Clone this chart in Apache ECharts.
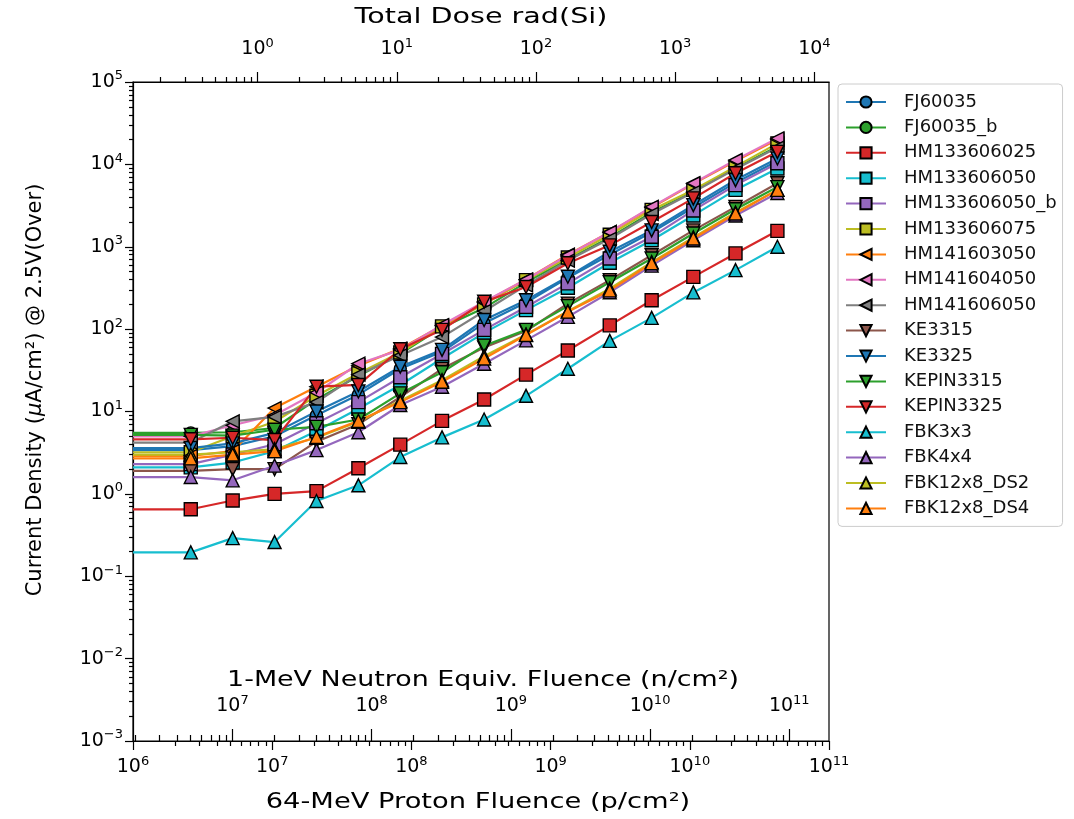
<!DOCTYPE html>
<html>
<head>
<meta charset="utf-8">
<script src="https://cdn.jsdelivr.net/npm/echarts@6/dist/echarts.min.js"></script>
<style>
    html, body { margin: 0; padding: 0; background: #fff; }
    #main { width: 1074px; height: 819px; }
</style>
</head>
<body>
<div id="main"></div>
<script>
    // proton fluence (p/cm2); the first entry is the pre-irradiation level drawn from the left edge
    var fluence = [1e6, 2.6e6, 5.2e6, 1.04e7, 2.08e7, 4.16e7, 8.32e7, 1.66e8, 3.33e8, 6.66e8, 1.33e9, 2.66e9, 5.32e9, 1.06e10, 2.13e10, 4.26e10];

    var FJ60035       = [3.4, 3.4, 3.8, 5.0, 9.0, 16, 33, 53, 118, 210, 420, 800, 1500, 3000, 6000, 11000];
    var FJ60035_b     = [5.5, 5.5, 5.6, 6.3, 14, 27, 50, 105, 180, 370, 700, 1300, 2600, 4700, 9000, 16500];
    var HM133606025   = [0.65, 0.65, 0.83, 1.0, 1.08, 2.05, 3.96, 7.7, 14, 28, 55, 111, 224, 431, 830, 1560];
    var HM133606050   = [2.1, 2.1, 2.4, 3.3, 5.8, 10.8, 21, 44, 90, 170, 318, 640, 1200, 2400, 4900, 8900];
    var HM133606050_b = [2.3, 2.3, 3.0, 4.0, 7.2, 13, 26, 50, 98, 186, 359, 720, 1320, 2760, 5600, 10300];
    var HM133606075   = [3.2, 3.2, 5.0, 7.5, 15.5, 29, 52, 108, 200, 393, 740, 1400, 2800, 4900, 9400, 18000];
    var HM141603050   = [2.9, 2.9, 3.3, 11, 20, 36, 58, 110, 210, 400, 800, 1500, 3000, 5800, 11000, 20000];
    var HM141604050   = [5.0, 5.0, 6.8, 9.0, 17, 38, 56, 112, 215, 400, 790, 1510, 3050, 5900, 11300, 20700];
    var HM141606050   = [4.2, 4.2, 7.6, 8.6, 13, 28, 48, 80, 165, 340, 680, 1250, 2500, 4600, 8800, 16000];
    var KE3315        = [1.9, 1.9, 2.0, 2.0, 4.3, 7.0, 15, 33, 60, 95, 204, 393, 790, 1580, 3050, 5900];
    var KE3325        = [3.6, 3.6, 4.1, 5.5, 10, 17.5, 35, 56, 129, 224, 432, 870, 1580, 3200, 6450, 11800];
    var KEPIN3315     = [5.2, 5.2, 5.1, 6.0, 6.5, 8.0, 16.6, 30, 63, 98, 190, 370, 720, 1450, 2850, 5300];
    var KEPIN3325     = [4.6, 4.6, 4.8, 4.5, 20, 21, 57, 98, 215, 325, 630, 1040, 2000, 3870, 7800, 14200];
    var FBK3x3        = [0.195, 0.195, 0.29, 0.26, 0.82, 1.27, 2.8, 4.85, 8.0, 15.5, 33, 72, 137, 279, 520, 1000];
    var FBK4x4        = [1.6, 1.6, 1.46, 2.2, 3.4, 5.6, 12, 20, 38, 73, 141, 280, 590, 1200, 2400, 4500];
    var FBK12x8_DS2   = [3.0, 3.0, 3.2, 3.5, 4.8, 7.5, 13.5, 24, 47, 86, 165, 310, 650, 1300, 2600, 4900];
    var FBK12x8_DS4   = [2.7, 2.7, 3.0, 3.3, 4.9, 7.7, 13, 23, 44, 85, 163, 295, 630, 1260, 2530, 4900];

    // tick labels (decade exponents)
    var currentDecades = [-3, -2, -1, 0, 1, 2, 3, 4, 5];
    var doseDecades = [0, 1, 2, 3, 4];
    var neutronDecades = [7, 8, 9, 10, 11];

    // secondary scales relative to proton fluence
    var doseFactor = 7.85e6;    // p/cm2 per rad(Si)
    var neutronFactor = 1.93;   // n/cm2 per p/cm2

    var font = 'DejaVu Sans';
    var circle = 'circle';
    var square = 'rect';
    var triLeft = 'path://M0,5L10,0L10,10Z';
    var triDown = 'path://M0,0L10,0L5,10Z';
    var triUp = 'path://M5,0L10,10L0,10Z';

    var seriesDefs = [
        ['FJ60035', FJ60035, '#1f77b4', circle],
        ['FJ60035_b', FJ60035_b, '#2ca02c', circle],
        ['HM133606025', HM133606025, '#d62728', square],
        ['HM133606050', HM133606050, '#17becf', square],
        ['HM133606050_b', HM133606050_b, '#9467bd', square],
        ['HM133606075', HM133606075, '#bcbd22', square],
        ['HM141603050', HM141603050, '#ff7f0e', triLeft],
        ['HM141604050', HM141604050, '#e377c2', triLeft],
        ['HM141606050', HM141606050, '#7f7f7f', triLeft],
        ['KE3315', KE3315, '#8c564b', triDown],
        ['KE3325', KE3325, '#1f77b4', triDown],
        ['KEPIN3315', KEPIN3315, '#2ca02c', triDown],
        ['KEPIN3325', KEPIN3325, '#d62728', triDown],
        ['FBK3x3', FBK3x3, '#17becf', triUp],
        ['FBK4x4', FBK4x4, '#9467bd', triUp],
        ['FBK12x8_DS2', FBK12x8_DS2, '#bcbd22', triUp],
        ['FBK12x8_DS4', FBK12x8_DS4, '#ff7f0e', triUp]
    ];

    var series = seriesDefs.map(function (d) {
        var data = d[1].map(function (v, i) {
            if (i === 0) return {value: [fluence[i], v], symbol: 'none'};
            return [fluence[i], v];
        });
        return {
            name: d[0],
            type: 'line',
            xAxisIndex: 0,
            yAxisIndex: 0,
            data: data,
            symbol: d[3],
            symbolSize: d[3] === circle ? 12 : 13,
            showAllSymbol: true,
            lineStyle: {color: d[2], width: 2.2},
            itemStyle: {color: d[2], borderColor: '#000', borderWidth: 1.4},
            emphasis: {disabled: true},
            animation: false
        };
    });

    // minor tick positions in log10 space between two exponents
    function minors(lo, hi) {
        var out = [];
        for (var e = Math.floor(lo); e <= Math.ceil(hi); e++) {
            for (var k = 2; k <= 9; k++) {
                var p = e + Math.log10(k);
                if (p >= lo && p <= hi) out.push(p);
            }
        }
        return out;
    }

    function supLabel(exp) {
        var s = exp < 0 ? '\u2212' + (-exp) : String(exp);
        return '{b|10}{s|' + s + '}';
    }

    var rich = {
        b: {fontSize: 19, fontFamily: font, color: '#000', lineHeight: 25},
        s: {fontSize: 13, fontFamily: font, color: '#000', lineHeight: 15, verticalAlign: 'top'}
    };

    var blackLine = {color: '#000', width: 1.2};

    var doseMin = Math.log10(1e6 / doseFactor), doseMax = Math.log10(1e11 / doseFactor);
    var neuMin = Math.log10(1e6 * neutronFactor), neuMax = Math.log10(1e11 * neutronFactor);

    var option = {
        backgroundColor: '#fff',
        animation: false,
        grid: {left: 133, right: 245, top: 82, bottom: 78, show: true, borderColor: '#000', borderWidth: 1.2, backgroundColor: '#fff'},
        legend: {
            orient: 'vertical',
            left: 838,
            top: 84,
            padding: [9, 6, 9, 7],
            itemWidth: 40,
            itemHeight: 14,
            itemGap: 7.4,
            borderColor: '#cccccc',
            borderWidth: 1,
            borderRadius: 4,
            textStyle: {fontFamily: font, fontSize: 18, lineHeight: 18, color: '#111', padding: [0, 0, 0, 13]},
            data: seriesDefs.map(function (d) { return d[0]; })
        },
        xAxis: [
            {   // 64-MeV proton fluence, data axis
                type: 'log', logBase: 10, min: 1e6, max: 1e11, position: 'bottom', gridIndex: 0,
                axisLine: {onZero: false, lineStyle: blackLine},
                axisTick: {length: 9, lineStyle: blackLine},
                axisLabel: {margin: 14, rich: rich, formatter: function (v) { return supLabel(Math.round(Math.log10(v))); }},
                splitLine: {show: false}, minorTick: {show: false}
            },
            {   // proton minor ticks
                type: 'value', min: 6, max: 11, position: 'bottom', gridIndex: 0,
                axisLine: {show: false, onZero: false},
                axisTick: {length: 5, lineStyle: blackLine, customValues: minors(6, 11)},
                axisLabel: {show: false}, splitLine: {show: false}
            },
            {   // total dose, top
                type: 'value', min: doseMin, max: doseMax, position: 'top', gridIndex: 0,
                axisLine: {onZero: false, lineStyle: blackLine},
                axisTick: {length: 10, lineStyle: blackLine, customValues: doseDecades},
                axisLabel: {margin: 20, rich: rich, customValues: doseDecades, formatter: function (v) { return supLabel(Math.round(v)); }},
                splitLine: {show: false}
            },
            {   // dose minor ticks
                type: 'value', min: doseMin, max: doseMax, position: 'top', gridIndex: 0,
                axisLine: {show: false, onZero: false},
                axisTick: {length: 5, lineStyle: blackLine, customValues: minors(doseMin, doseMax)},
                axisLabel: {show: false}, splitLine: {show: false}
            },
            {   // 1-MeV neutron equivalent fluence, inside the plot
                type: 'value', min: neuMin, max: neuMax, position: 'bottom', gridIndex: 0,
                axisLine: {show: false, onZero: false},
                axisTick: {inside: true, length: 12, lineStyle: blackLine, customValues: neutronDecades},
                axisLabel: {inside: true, margin: 22, rich: rich, customValues: neutronDecades, formatter: function (v) { return supLabel(Math.round(v)); }},
                splitLine: {show: false}
            },
            {   // neutron minor ticks
                type: 'value', min: neuMin, max: neuMax, position: 'bottom', gridIndex: 0,
                axisLine: {show: false, onZero: false},
                axisTick: {inside: true, length: 6, lineStyle: blackLine, customValues: minors(neuMin, neuMax)},
                axisLabel: {show: false}, splitLine: {show: false}
            }
        ],
        yAxis: [
            {
                type: 'log', logBase: 10, min: 1e-3, max: 1e5, position: 'left', gridIndex: 0,
                axisLine: {onZero: false, lineStyle: blackLine},
                axisTick: {length: 8, lineStyle: blackLine},
                axisLabel: {margin: 10, rich: rich, formatter: function (v) { return supLabel(Math.round(Math.log10(v))); }},
                splitNumber: 8,
                splitLine: {show: false}, minorTick: {show: false}
            },
            {   // current density minor ticks
                type: 'value', min: -3, max: 5, position: 'left', gridIndex: 0,
                axisLine: {show: false, onZero: false},
                axisTick: {length: 4, lineStyle: blackLine, customValues: minors(-3, 5)},
                axisLabel: {show: false}, splitLine: {show: false}
            }
        ],
        graphic: [
            {
                type: 'text', x: 481, y: 17, scaleX: 1.3,
                style: {text: 'Total Dose rad(Si)', font: '22px "DejaVu Sans"', fill: '#000', textAlign: 'center', textVerticalAlign: 'middle'}
            },
            {
                type: 'text', x: 483, y: 681, scaleX: 1.28,
                style: {text: '1-MeV Neutron Equiv. Fluence (n/cm\u00b2)', font: '21px "DejaVu Sans"', fill: '#000', textAlign: 'center', textVerticalAlign: 'middle'}
            },
            {
                type: 'text', x: 478, y: 803, scaleX: 1.3,
                style: {text: '64-MeV Proton Fluence (p/cm\u00b2)', font: '21px "DejaVu Sans"', fill: '#000', textAlign: 'center', textVerticalAlign: 'middle'}
            },
            {
                type: 'text', x: 36, y: 390, rotation: Math.PI / 2,
                style: {
                    text: 'Current Density ({i|\u03bc}A/cm\u00b2) @ 2.5V(Over)',
                    font: '21px "DejaVu Sans"', fill: '#000', textAlign: 'center', textVerticalAlign: 'middle',
                    rich: {i: {font: 'italic 21px "DejaVu Sans"', fill: '#000'}}
                }
            }
        ],
        series: series
    };

    var chart = echarts.init(document.getElementById('main'), null, {renderer: 'canvas'});
    chart.setOption(option);
</script>
</body>
</html>
